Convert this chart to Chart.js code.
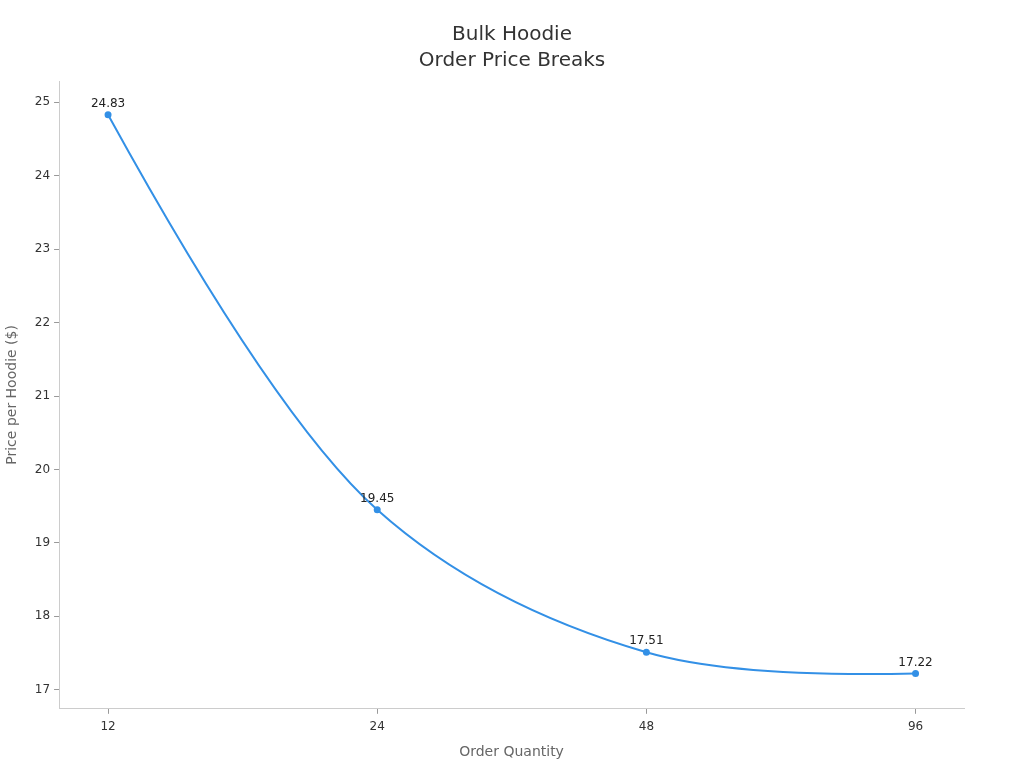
<!DOCTYPE html>
<html>
<head>
<meta charset="utf-8">
<script src="https://cdn.jsdelivr.net/npm/chart.js@4/dist/chart.umd.min.js"></script>
<style>
  html, body { margin: 0; padding: 0; background: #fff; }
  #wrap { width: 1024px; height: 768px; }
</style>
</head>
<body>
<div id="wrap"><canvas id="chart"></canvas></div>
<script>
// data
const quantities = ['12', '24', '48', '96'];
const prices = [24.83, 19.45, 17.51, 17.22];
const priceTicks = [17, 18, 19, 20, 21, 22, 23, 24, 25];

const FONT = "'DejaVu Sans', sans-serif";

// centripetal catmull-rom tangents, quadratic ends (the curve shape of the reference)
function tangentAt(prev, cur, next) {
    const d1x = prev.x - cur.x, d1y = prev.y - cur.y;
    const d2x = next.x - cur.x, d2y = next.y - cur.y;
    const d1a = Math.pow(d1x * d1x + d1y * d1y, 0.25);
    const d2a = Math.pow(d2x * d2x + d2y * d2y, 0.25);
    const numx = d2a * d2a * d1x - d1a * d1a * d2x;
    const numy = d2a * d2a * d1y - d1a * d1a * d2y;
    const den1 = 3 * d2a * (d1a + d2a);
    const den2 = 3 * d1a * (d1a + d2a);
    return {
        inX: cur.x + (den1 && numx / den1), inY: cur.y + (den1 && numy / den1),
        outX: cur.x - (den2 && numx / den2), outY: cur.y - (den2 && numy / den2)
    };
}

const smoothCurve = {
    id: 'smoothCurve',
    beforeDatasetDraw(chart, args) {
        const line = args.meta.dataset;
        const pts = args.meta.data;
        const n = pts.length;
        if (!line || n < 3) return;
        line.updateControlPoints(chart.chartArea, 'x');
        const t = [];
        for (let i = 1; i < n - 1; i++) t[i] = tangentAt(pts[i - 1], pts[i], pts[i + 1]);
        // first segment: quadratic through the incoming handle of point 1
        const q0x = t[1].inX, q0y = t[1].inY;
        pts[0].cp2x = pts[0].x + 2 / 3 * (q0x - pts[0].x);
        pts[0].cp2y = pts[0].y + 2 / 3 * (q0y - pts[0].y);
        pts[1].cp1x = pts[1].x + 2 / 3 * (q0x - pts[1].x);
        pts[1].cp1y = pts[1].y + 2 / 3 * (q0y - pts[1].y);
        // inner segments
        for (let i = 1; i < n - 2; i++) {
            pts[i].cp2x = t[i].outX; pts[i].cp2y = t[i].outY;
            pts[i + 1].cp1x = t[i + 1].inX; pts[i + 1].cp1y = t[i + 1].inY;
        }
        // last segment: quadratic through the outgoing handle of point n-2
        const a = pts[n - 2], b = pts[n - 1];
        const qx = t[n - 2].outX, qy = t[n - 2].outY;
        a.cp2x = a.x + 2 / 3 * (qx - a.x);
        a.cp2y = a.y + 2 / 3 * (qy - a.y);
        b.cp1x = b.x + 2 / 3 * (qx - b.x);
        b.cp1y = b.y + 2 / 3 * (qy - b.y);
        delete line._path;
    }
};

// small plugin: writes the value over each point
const pointLabels = {
    id: 'pointLabels',
    afterDatasetsDraw(chart) {
        const ctx = chart.ctx;
        const meta = chart.getDatasetMeta(0);
        ctx.save();
        ctx.font = '12px ' + FONT;
        ctx.fillStyle = '#222';
        ctx.textAlign = 'center';
        ctx.textBaseline = 'bottom';
        meta.data.forEach((pt, i) => {
            ctx.fillText(prices[i].toFixed(2), pt.x, pt.y - 5);
        });
        ctx.restore();
    }
};

const ctx = document.getElementById('chart').getContext('2d');
new Chart(ctx, {
    type: 'line',
    data: {
        datasets: [{
            data: prices.map((p, i) => ({ x: i, y: p })),
            borderColor: '#3390e6',
            backgroundColor: '#3390e6',
            borderWidth: 2,
            pointRadius: 2.5,
            pointHoverRadius: 3,
            tension: 0.3,
            fill: false
        }]
    },
    options: {
        responsive: true,
        maintainAspectRatio: false,
        animation: false,
        layout: { padding: { top: 22, right: 0, bottom: 3, left: 0 } },
        plugins: {
            legend: { display: false },
            tooltip: { enabled: false },
            title: {
                display: true,
                text: ['Bulk Hoodie', 'Order Price Breaks'],
                color: '#333',
                font: { family: FONT, size: 20, weight: 'normal', lineHeight: 1.3 },
                padding: { top: 0, bottom: 7 }
            }
        },
        scales: {
            x: {
                type: 'linear',
                min: -0.182,
                max: 3.18,
                afterBuildTicks(axis) {
                    axis.ticks = quantities.map((q, i) => ({ value: i }));
                },
                ticks: {
                    callback: v => quantities[v],
                    color: '#333',
                    font: { family: FONT, size: 12 },
                    padding: 6
                },
                grid: {
                    display: true,
                    drawOnChartArea: false,
                    drawTicks: true,
                    tickLength: 5,
                    color: '#999'
                },
                border: { display: true, color: '#ccc' },
                title: {
                    display: true,
                    text: 'Order Quantity',
                    color: '#666',
                    font: { family: FONT, size: 14 },
                    padding: { top: 4 }
                }
            },
            y: {
                min: 16.74,
                max: 25.29,
                afterBuildTicks(axis) {
                    axis.ticks = priceTicks.map(v => ({ value: v }));
                },
                ticks: {
                    color: '#333',
                    font: { family: FONT, size: 12 },
                    padding: 4
                },
                grid: {
                    display: true,
                    drawOnChartArea: false,
                    drawTicks: true,
                    tickLength: 5,
                    color: '#999'
                },
                border: { display: true, color: '#ccc' },
                title: {
                    display: true,
                    text: 'Price per Hoodie ($)',
                    color: '#666',
                    font: { family: FONT, size: 14 },
                    padding: { bottom: 10 }
                }
            },
            // empty axis on the right, only to keep the right margin
            yRight: {
                position: 'right',
                min: 0,
                max: 1,
                ticks: { display: false },
                grid: { display: false },
                border: { display: false },
                afterFit(axis) { axis.width = 60; }
            }
        }
    },
    plugins: [smoothCurve, pointLabels]
});
</script>
</body>
</html>
